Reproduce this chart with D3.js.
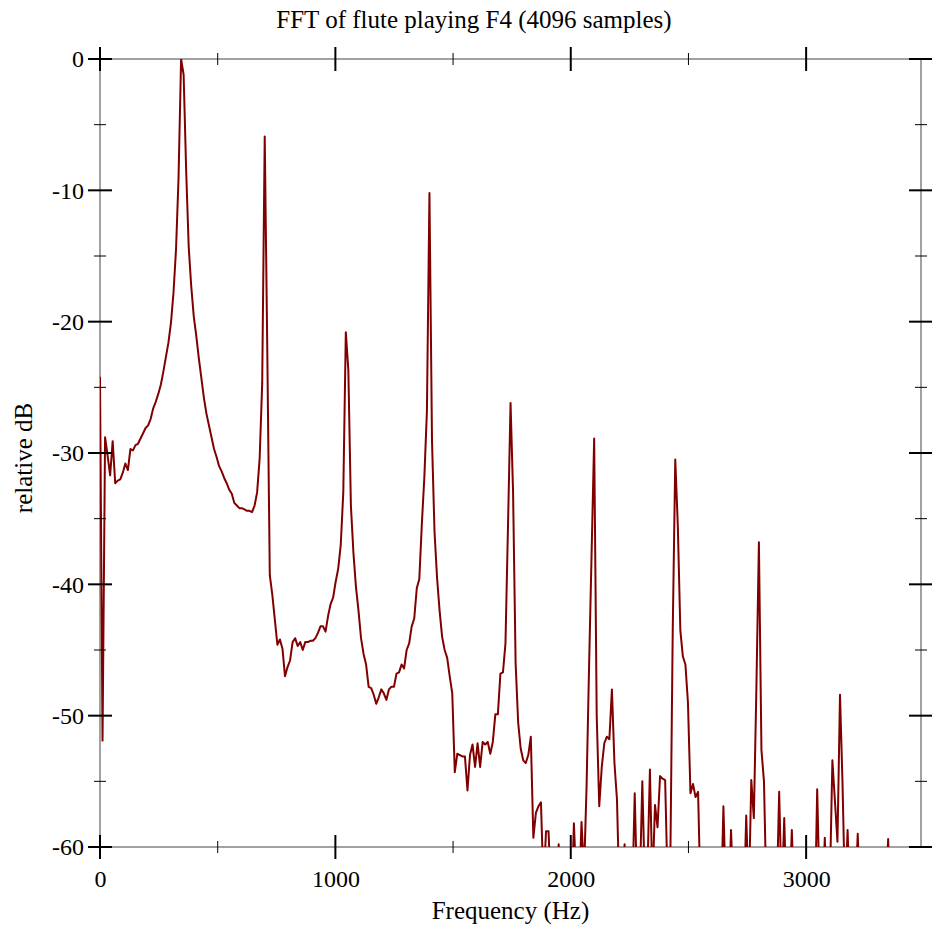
<!DOCTYPE html>
<html>
<head>
<meta charset="utf-8">
<script src="https://cdn.jsdelivr.net/npm/d3@7"></script>
<style>
  body { margin: 0; background: #fff; }
  text { font-family: "Liberation Serif", "Times New Roman", serif; fill: #000; }
</style>
</head>
<body>
<div id="chart"></div>
<script>
// FFT bin width: 44.1 kHz sample rate, 4096 samples
const binHz = 44100 / 4096;

// relative dB per bin (bin 0 .. 324); values under -60 are off-chart
const magnitudeDb = [
  -24.2, -51.9, -28.8, -30.2, -31.7, -29.1, -32.3, -32.1, -32.0, -31.5,
  -30.8, -31.3, -29.7, -29.8, -29.4, -29.3, -28.9, -28.5, -28.1, -27.9,
  -27.4, -26.6, -26.1, -25.5, -24.8, -23.8, -22.7, -21.6, -20.1, -17.8,
  -14.5, -9.0, 0.0, -1.2, -8.5, -14.3, -17.3, -19.6, -21.1, -22.8,
  -24.3, -25.8, -27.0, -27.9, -28.8, -29.7, -30.3, -31.0, -31.4, -31.9,
  -32.3, -32.8, -33.1, -33.8, -34.0, -34.2, -34.2, -34.3, -34.4, -34.4,
  -34.5, -34.0, -33.0, -30.4, -24.7, -5.9, -22.0, -39.3, -40.8, -42.7,
  -44.6, -44.2, -44.9, -47.0, -46.3, -45.8, -44.4, -44.1, -44.7, -44.4,
  -45.0, -44.4, -44.4, -44.3, -44.3, -44.1, -43.7, -43.2, -43.2, -43.6,
  -42.4, -41.5, -41.0, -39.8, -38.8, -37.0, -33.0, -20.8, -23.7, -34.0,
  -37.6, -40.2, -42.0, -44.1, -45.3, -46.1, -47.8, -47.9, -48.4, -49.1,
  -48.6, -48.0, -48.3, -48.8, -48.0, -47.8, -47.8, -46.8, -46.7, -46.1,
  -46.4, -45.0, -44.5, -43.2, -42.6, -40.3, -39.6, -35.4, -31.8, -26.8,
  -10.2, -29.0, -36.0, -39.5, -42.0, -44.0, -45.0, -45.6, -47.0, -48.3,
  -54.3, -52.9, -53.0, -53.1, -53.1, -55.7, -53.0, -52.2, -53.9, -52.1,
  -53.9, -52.0, -52.2, -52.0, -52.9, -52.0, -49.9, -49.9, -46.8, -46.7,
  -44.5, -35.5, -26.2, -33.0, -46.0, -50.5, -52.5, -53.4, -53.6, -53.0,
  -51.6, -59.3, -57.4, -56.9, -56.6, -63.0, -58.8, -58.8, -64.0, -68.0,
  -66.0, -59.8, -65.0, -70.0, -67.0, -64.0, -65.0, -58.2, -63.0, -64.0,
  -58.1, -62.0, -55.4, -46.1, -37.5, -28.9, -50.0, -56.9, -53.9, -52.1,
  -51.6, -51.8, -48.0, -53.6, -56.4, -64.0, -66.0, -59.8, -66.0, -69.0,
  -64.0, -55.9, -64.0, -63.0, -55.0, -63.0, -62.0, -54.1, -63.0, -56.8,
  -58.5, -54.6, -54.8, -54.9, -63.0, -62.0, -43.5, -30.5, -35.5, -43.5,
  -45.5, -46.1, -49.0, -55.9, -55.2, -56.2, -55.8, -64.0, -68.0, -71.0,
  -66.0, -70.0, -67.0, -72.0, -68.0, -65.0, -56.9, -64.0, -65.0, -58.7,
  -64.0, -69.0, -72.0, -68.0, -65.0, -57.6, -64.0, -54.9, -57.8, -48.0,
  -36.8, -52.6, -55.0, -64.0, -68.0, -71.0, -67.0, -64.0, -55.8, -64.0,
  -57.8, -65.0, -64.0, -58.7, -65.0, -70.0, -68.0, -72.0, -69.0, -71.0,
  -67.0, -70.0, -66.0, -55.6, -64.0, -65.0, -59.3, -65.0, -63.0, -53.4,
  -56.5, -59.6, -48.4, -55.2, -64.0, -58.7, -65.0, -70.0, -64.0, -59.0,
  -65.0, -69.0, -72.0, -70.0, -68.0, -71.0, -69.0, -73.0, -70.0, -67.0,
  -64.0, -59.4, -65.0, -70.0, -68.0, -72.0, -69.0, -71.0, -70.0, -73.0,
  -68.0, -71.0, -69.0, -72.0, -70.0
];

const xMajorTicks = [0, 1000, 2000, 3000];
const xMinorTicks = [500, 1500, 2500];
const yMajorTicks = [0, -10, -20, -30, -40, -50, -60];
const yMinorTicks = [-5, -15, -25, -35, -45, -55];

const W = 932, H = 928;
const plot = { left: 100, right: 921, top: 59, bottom: 847 };

const svg = d3.select("#chart").append("svg")
  .attr("width", W)
  .attr("height", H);

const x = d3.scaleLinear().domain([0, 3488]).range([plot.left, plot.right]);
const y = d3.scaleLinear().domain([-60, 0]).range([plot.bottom, plot.top]);

const data = magnitudeDb.map((db, i) => ({ f: i * binHz, db }));

svg.append("clipPath").attr("id", "plot-clip")
  .append("rect")
  .attr("x", plot.left).attr("y", plot.top)
  .attr("width", plot.right - plot.left)
  .attr("height", plot.bottom - plot.top);

// frame
svg.append("rect")
  .attr("x", plot.left).attr("y", plot.top)
  .attr("width", plot.right - plot.left)
  .attr("height", plot.bottom - plot.top)
  .attr("fill", "none")
  .attr("stroke", "#444")
  .attr("stroke-width", 1);

// spectrum line
const line = d3.line().x(d => x(d.f)).y(d => y(d.db));
svg.append("path")
  .datum(data)
  .attr("clip-path", "url(#plot-clip)")
  .attr("fill", "none")
  .attr("stroke", "#800000")
  .attr("stroke-width", 2)
  .attr("stroke-linejoin", "round")
  .attr("d", line);

// tick marks on all four sides, crossing the frame
const ticks = svg.append("g").attr("stroke", "#000");
function xTicks(vals, half, sw) {
  [plot.top, plot.bottom].forEach(y0 => {
    ticks.selectAll(null).data(vals).enter().append("line")
      .attr("x1", d => x(d)).attr("x2", d => x(d))
      .attr("y1", y0 - half).attr("y2", y0 + half)
      .attr("stroke-width", sw);
  });
}
function yTicks(vals, half, sw) {
  [plot.left, plot.right].forEach(x0 => {
    ticks.selectAll(null).data(vals).enter().append("line")
      .attr("y1", d => y(d)).attr("y2", d => y(d))
      .attr("x1", x0 - half).attr("x2", x0 + half)
      .attr("stroke-width", sw);
  });
}
xTicks(xMajorTicks, 12, 2);
xTicks(xMinorTicks, 6, 1);
yTicks(yMajorTicks, 12, 2);
yTicks(yMinorTicks, 6, 1);

// tick labels through d3 axes (tick lines hidden, drawn above)
const xAxis = svg.append("g")
  .attr("transform", `translate(0,${plot.bottom})`)
  .call(d3.axisBottom(x).tickValues(xMajorTicks).tickSize(0).tickPadding(23).tickFormat(d => String(d)));
const yAxis = svg.append("g")
  .attr("transform", `translate(${plot.left},0)`)
  .call(d3.axisLeft(y).tickValues(yMajorTicks).tickSize(0).tickPadding(16).tickFormat(d => String(d)));
[xAxis, yAxis].forEach(g => {
  g.select(".domain").remove();
  g.selectAll("text")
    .attr("font-family", "Liberation Serif, serif")
    .attr("font-size", 24)
    .attr("fill", "#000");
});

svg.append("text")
  .attr("x", 474).attr("y", 28)
  .attr("text-anchor", "middle")
  .attr("font-size", 25)
  .text("FFT of flute playing F4 (4096 samples)");

svg.append("text")
  .attr("x", (plot.left + plot.right) / 2).attr("y", 919)
  .attr("text-anchor", "middle")
  .attr("font-size", 25)
  .text("Frequency (Hz)");

svg.append("text")
  .attr("transform", `translate(32,${(plot.top + plot.bottom) / 2 + 5}) rotate(-90)`)
  .attr("text-anchor", "middle")
  .attr("font-size", 25)
  .text("relative dB");
</script>
</body>
</html>
